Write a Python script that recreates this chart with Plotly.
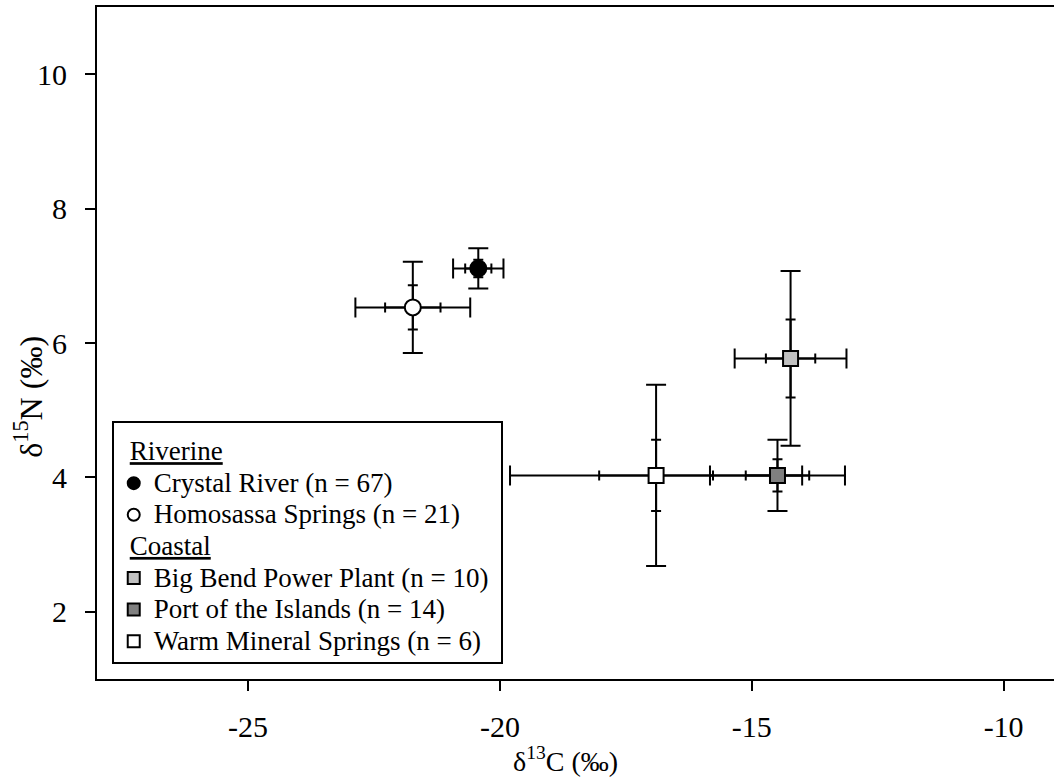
import plotly.graph_objects as go

# Site means of d13C / d15N with two levels of spread (outer caps and inner ticks)
sites = ["Crystal River (n = 67)", "Homosassa Springs (n = 21)",
         "Big Bend Power Plant (n = 10)", "Port of the Islands (n = 14)",
         "Warm Mineral Springs (n = 6)"]
groups = ["Riverine", "Riverine", "Coastal", "Coastal", "Coastal"]
d13c = [-20.43, -21.73, -14.23, -14.49, -16.90]
d15n = [7.11, 6.53, 5.77, 4.03, 4.03]
c_outer = [0.50, 1.14, 1.11, 1.34, 2.90]
c_inner = [0.26, 0.55, 0.49, 0.63, 1.13]
n_outer = [0.30, 0.68, 1.30, 0.53, 1.35]
n_inner = [0.13, 0.33, 0.58, 0.24, 0.53]

symbols = ["circle", "circle", "square", "square", "square"]
fills = ["black", "white", "#c0c0c0", "#808080", "white"]
sizes = [16, 16, 15, 15, 15]

FONT = "Liberation Serif, Times New Roman, serif"

fig = go.Figure()

# error bars first so the markers sit on top
for spread_c, spread_n, cap in [(c_outer, n_outer, 10), (c_inner, n_inner, 5)]:
    for i in range(len(sites)):
        fig.add_trace(go.Scatter(
            x=[d13c[i]], y=[d15n[i]], mode="markers",
            marker=dict(size=2, color="rgba(0,0,0,0)"),
            error_x=dict(type="data", array=[spread_c[i]], color="black",
                         thickness=2, width=cap),
            error_y=dict(type="data", array=[spread_n[i]], color="black",
                         thickness=2, width=cap),
            showlegend=False, hoverinfo="skip"))

for i in range(len(sites)):
    fig.add_trace(go.Scatter(
        x=[d13c[i]], y=[d15n[i]], mode="markers",
        name="<span style='font-size:27px'>" + sites[i] + "&nbsp;</span>",
        legendgroup=groups[i],
        legendgrouptitle=dict(
            text="&nbsp;&nbsp;<u><span style='font-size:27px'>" + groups[i] + "</span></u>",
            font=dict(family=FONT, size=22, color="black")),
        marker=dict(symbol=symbols[i], size=sizes[i], color=fills[i],
                    line=dict(color="black", width=2))))

fig.update_layout(
    width=1054, height=780,
    margin=dict(l=97, r=0, t=7, b=101),
    paper_bgcolor="white", plot_bgcolor="white",
    font=dict(family=FONT, size=30, color="black"),
    showlegend=True,
    legend=dict(
        x=0.0154, y=0.384, xanchor="left", yanchor="top",
        bgcolor="white", bordercolor="black", borderwidth=2,
        font=dict(family=FONT, size=22, color="black"),
        title=dict(text="&nbsp;", font=dict(family=FONT, size=6)),
        traceorder="grouped", tracegroupgap=0, itemsizing="constant"),
    xaxis=dict(range=[-28, -9], tickvals=[-25, -20, -15, -10],
               ticktext=["-25", "-20", "-15", "-10"],
               showline=True, linecolor="black", linewidth=2, mirror=True,
               ticks="outside", ticklen=10, tickwidth=2, tickcolor="black",
               showgrid=False, zeroline=False, ticklabelstandoff=10,
               tickfont=dict(family=FONT, size=30)),
    yaxis=dict(range=[1, 11], tickvals=[2, 4, 6, 8, 10],
               showline=True, linecolor="black", linewidth=2, mirror=False,
               ticks="outside", ticklen=10, tickwidth=2, tickcolor="black",
               showgrid=False, zeroline=False, ticklabelstandoff=12,
               tickfont=dict(family=FONT, size=30)),
    annotations=[
        dict(text="δ<sup>13</sup>C (‰)", xref="paper", yref="paper",
             x=0.490, y=-0.1205, xanchor="center", yanchor="middle",
             showarrow=False, font=dict(family=FONT, size=28)),
        dict(text="δ<sup>15</sup>N (‰)", xref="paper", yref="paper",
             x=-0.072, y=0.42, xanchor="center", yanchor="middle",
             textangle=-90, showarrow=False,
             font=dict(family=FONT, size=32)),
    ],
)

fig.write_html("out.html")
